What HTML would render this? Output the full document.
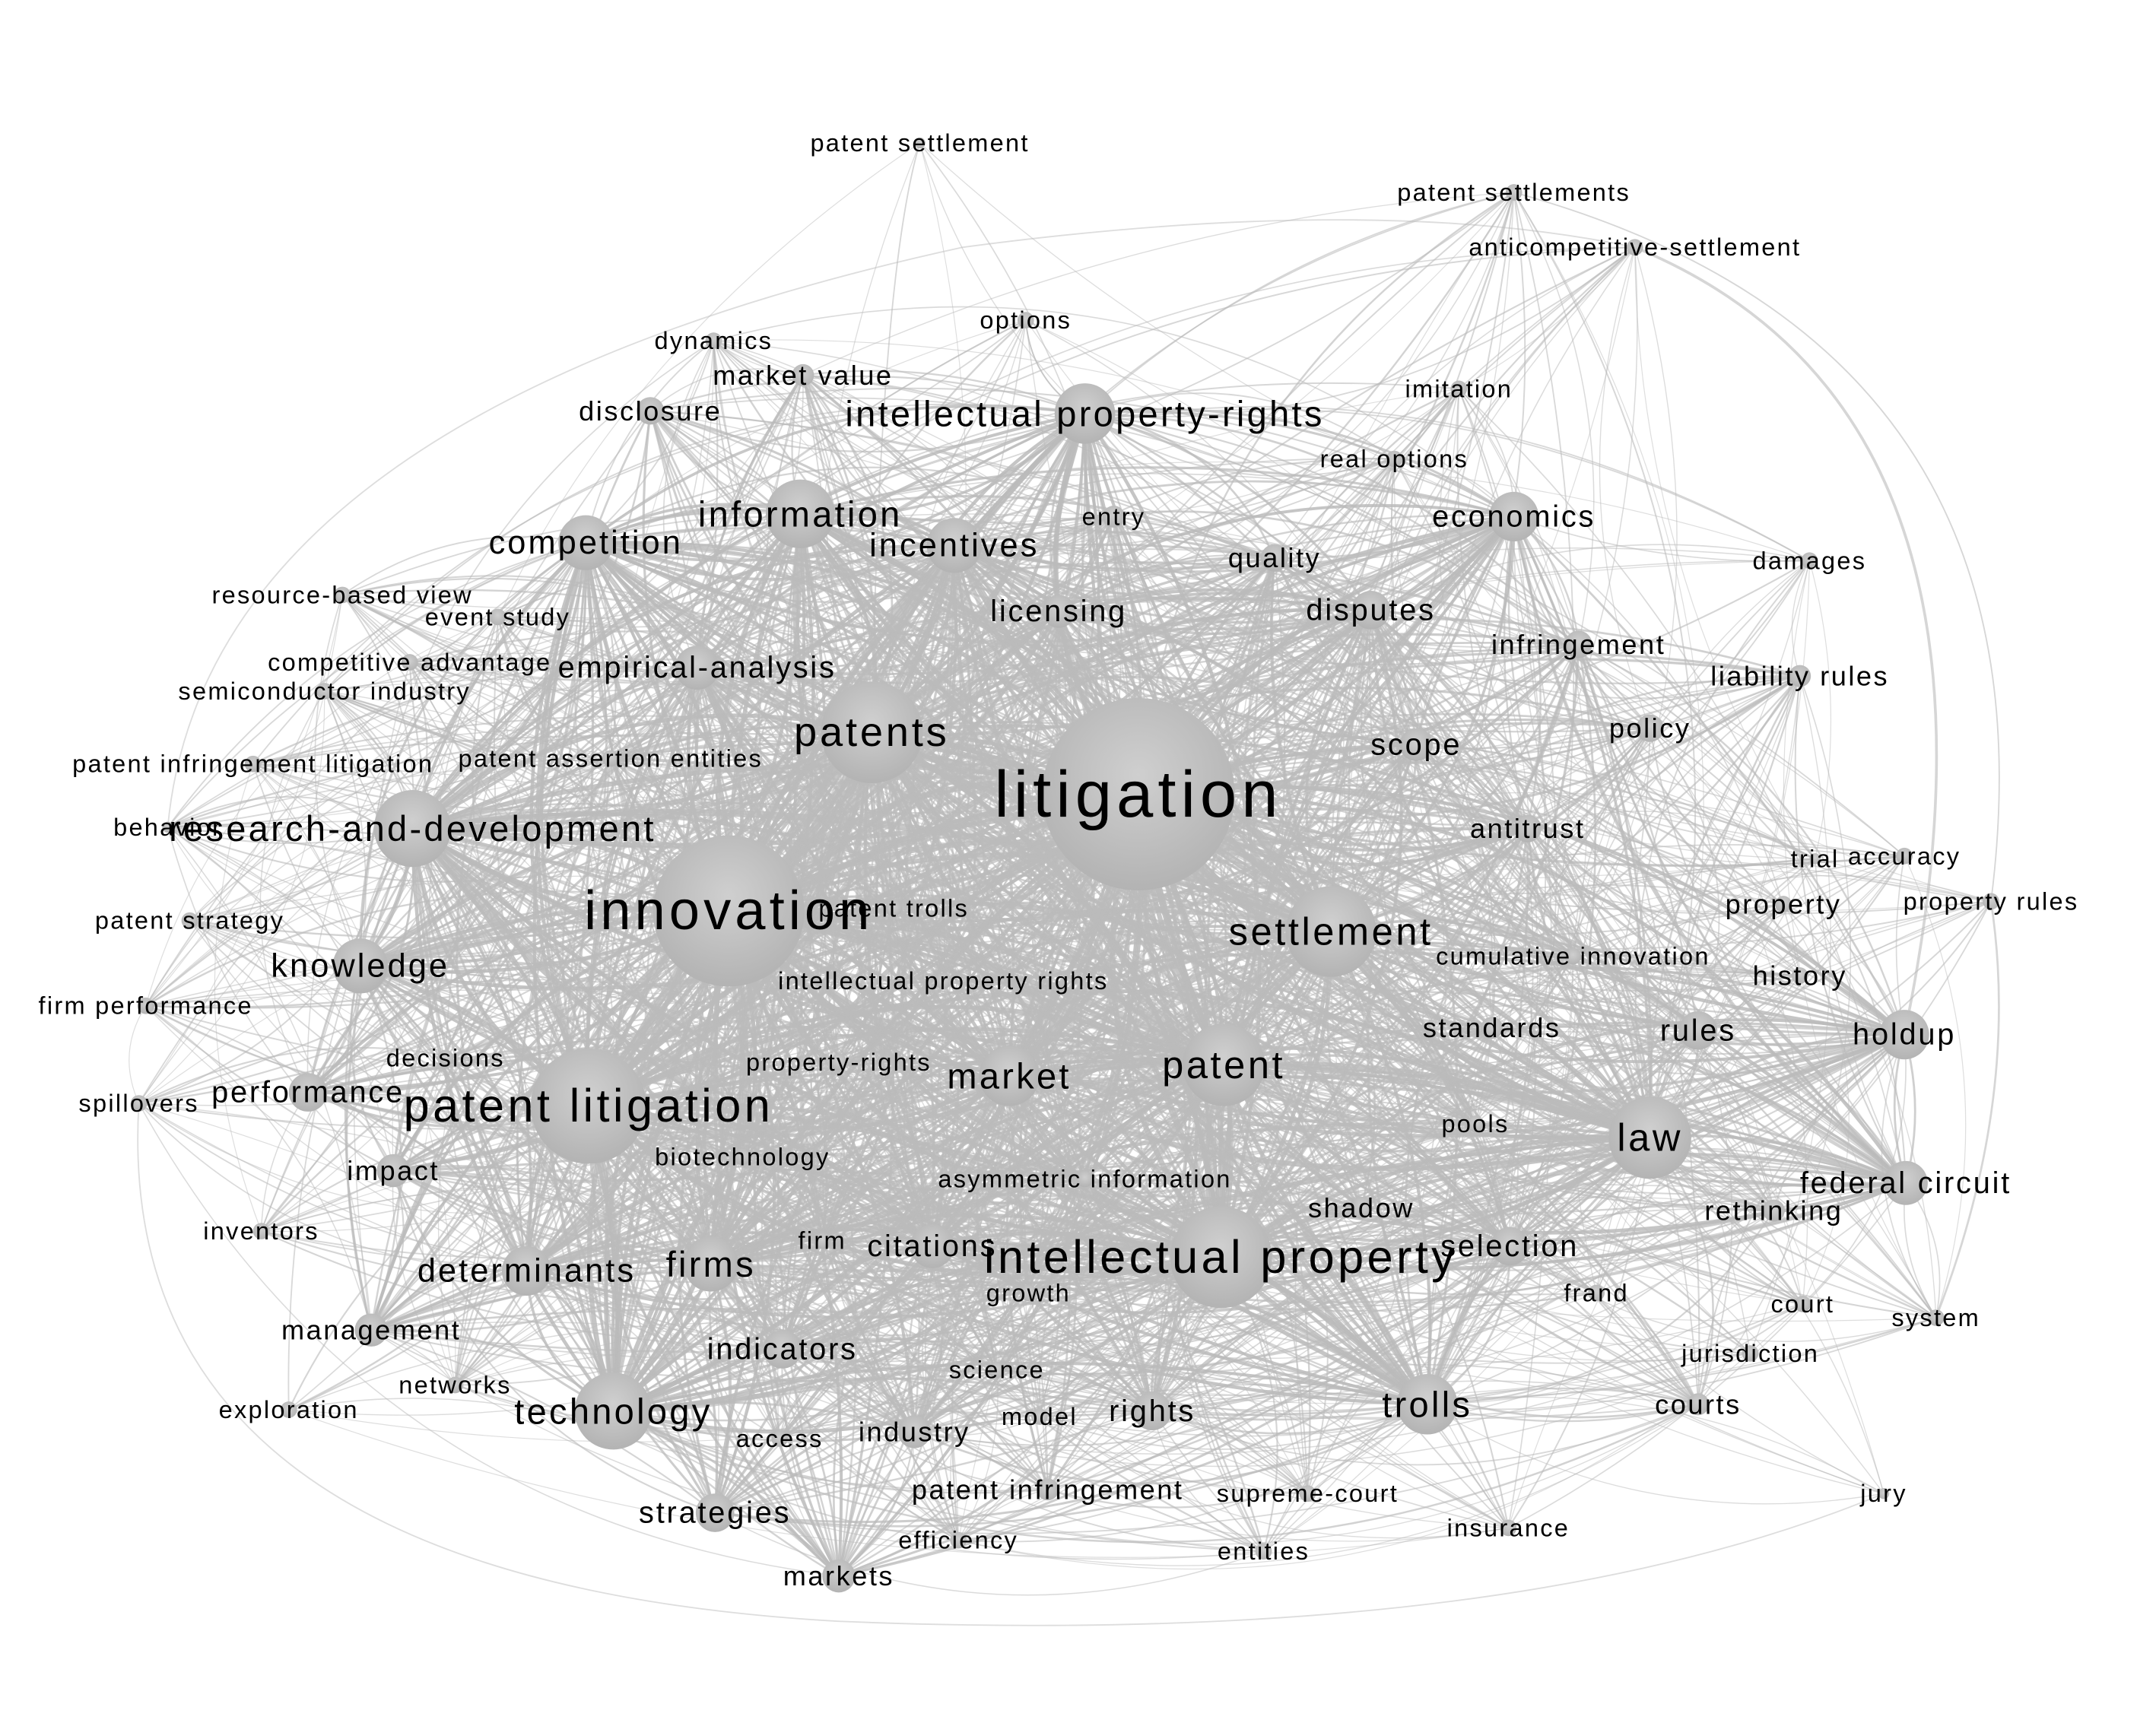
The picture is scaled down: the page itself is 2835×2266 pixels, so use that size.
<!DOCTYPE html>
<html><head><meta charset="utf-8"><style>
html,body{margin:0;padding:0;background:#fff;width:2835px;height:2266px;overflow:hidden}
svg{display:block}
text{font-family:"Liberation Sans",Arial,sans-serif;fill:#000;text-anchor:middle;dominant-baseline:central;letter-spacing:0.07em}
</style></head><body>
<svg id="s" width="2835" height="2266" viewBox="0 0 1568 1254" preserveAspectRatio="none" xmlns="http://www.w3.org/2000/svg">
<defs><radialGradient id="g" cx="50%" cy="40%" r="60%"><stop offset="0" stop-color="#cfcfcf"/><stop offset="1" stop-color="#b3b3b3"/></radialGradient></defs>
<g id="edges" fill="none" stroke="#bbbbbb"></g>
<g id="circ"></g>
<g id="labels"></g>
</svg>
<script>
var N=[
["litigation",828,578,48,70,10],["innovation",530,663,40,55,10],["patents",634,533,30,37,8],
["patent litigation",428,805,34,42,8],["intellectual property",888,915,34,37,8],["settlement",968,678,28,33,7],
["research-and-development",300,603,26,28,7],["technology",446,1027,26,28,7],["trolls",1038,1022,26,22,6],
["law",1200,828,28,30,7],["patent",890,775,28,30,7],["market",734,783,26,22,6],["firms",517,920,26,20,6],
["information",582,374,26,25,6],["competition",426,395,24,20,6],["intellectual property-rights",789,301,26,22,6],
["incentives",694,397,24,20,6],["economics",1101,376,22,18,5],["knowledge",262,703,24,20,5],["holdup",1385,753,22,18,5],
["determinants",383,925,24,18,5],["disputes",997,444,22,14,5],["empirical-analysis",507,486,22,16,5],["citations",678,907,22,16,5],
["federal circuit",1386,861,22,16,5],["selection",1098,907,22,14,4],["rules",1235,750,22,14,4],["performance",224,795,22,14,4],
["management",270,968,20,12,4],["strategies",520,1101,22,14,4],["rights",838,1027,22,14,4],["indicators",569,982,22,14,4],
["industry",665,1042,20,12,4],["markets",610,1147,20,12,4],["impact",286,852,20,12,4],["licensing",770,445,22,12,4],
["scope",1030,542,22,12,4],["antitrust",1111,603,20,10,4],["policy",1200,530,20,10,3],["infringement",1148,469,20,10,4],
["quality",927,406,20,10,4],["entry",810,376,18,8,3],["disclosure",473,299,20,10,3],["market value",584,273,20,8,3],
["dynamics",519,248,18,6,2],["options",746,233,18,6,2],["patent settlement",669,104,18,4,1],["patent settlements",1101,140,18,6,2],
["anticompetitive-settlement",1189,180,18,6,2],["imitation",1061,283,18,6,2],["real options",1014,334,18,6,2],["damages",1316,408,18,6,2],
["liability rules",1309,492,20,8,3],["resource-based view",249,433,18,6,2],["event study",362,449,18,6,2],["competitive advantage",298,482,18,6,2],
["semiconductor industry",236,503,18,6,2],["patent infringement litigation",184,556,18,6,2],["patent assertion entities",444,552,18,6,3],
["patent strategy",138,670,18,6,2],["firm performance",106,732,18,6,2],["spillovers",101,803,18,6,2],["inventors",190,896,18,6,2],
["exploration",210,1026,18,6,2],["networks",331,1008,18,6,2],["access",567,1047,18,6,2],["model",756,1031,18,6,2],["science",725,997,18,6,3],
["growth",748,941,18,6,3],["firm",598,903,18,6,3],["asymmetric information",789,858,18,6,3],["biotechnology",540,842,18,6,3],
["property-rights",610,773,18,6,3],["decisions",324,770,18,6,2],["intellectual property rights",686,714,18,6,3],["patent trolls",650,661,18,6,3],
["cumulative innovation",1144,696,18,6,3],["standards",1085,748,20,8,3],["pools",1073,818,18,6,3],["shadow",990,879,20,8,3],
["frand",1161,941,18,6,2],["court",1311,949,18,6,2],["system",1408,959,18,6,2],["jurisdiction",1273,985,18,6,2],["courts",1235,1022,20,8,3],
["jury",1370,1087,18,4,1],["insurance",1097,1112,18,6,2],["entities",919,1129,18,6,2],["supreme-court",951,1087,18,6,2],
["patent infringement",762,1084,20,8,3],["efficiency",697,1121,18,6,2],["rethinking",1290,881,20,8,3],["history",1309,710,20,6,2],
["property",1297,658,20,6,2],["trial",1320,625,18,4,2],["accuracy",1385,623,18,6,2],["property rules",1448,656,18,6,2],["behavior",122,602,18,4,2]
];
var seed=12345;function r(){seed=(seed*16807)%2147483647;return seed/2147483647;}
var E=document.getElementById("edges"),C=document.getElementById("circ"),L=document.getElementById("labels");
var h="";
for(var pass=0;pass<2;pass++)
for(var i=0;i<N.length;i++)for(var j=i+1;j<N.length;j++){
 var a=N[i],b=N[j],p=a[5]*b[5]/32;
 if(pass==1){ if(a[5]<5&&b[5]<5) continue; p=a[5]*b[5]/60; }
 var dx=b[1]-a[1],dy=b[2]-a[2],d=Math.sqrt(dx*dx+dy*dy);
 if(d>700)p*=0.5;
 if(r()<p){
  var s=(r()<0.5?-1:1)*(0.08+0.2*r());
  var mx=(a[1]+b[1])/2-dy*s,my=(a[2]+b[2])/2+dx*s;
  var w=Math.min(4.5,0.5+a[5]*b[5]/24);
  var o=(0.45+0.4*Math.min(1,a[5]*b[5]/40)).toFixed(2);
  h+='<path d="M'+a[1]+' '+a[2]+'Q'+mx.toFixed(1)+' '+my.toFixed(1)+' '+b[1]+' '+b[2]+'" stroke-width="'+w.toFixed(2)+'" stroke-opacity="'+o+'"/>';
 }}
h+='<path d="M1189 180 Q1480 300 1385 753" stroke-width="2" stroke-opacity="0.6"/><path d="M1101 140 Q1500 250 1448 656" stroke-width="1" stroke-opacity="0.6"/>';
h+='<path d="M669 104 Q640 200 634 533" stroke-width="1" stroke-opacity="0.6"/><path d="M101 803 Q80 1150 610 1180 Q1100 1200 1370 1087" stroke-width="1" stroke-opacity="0.5"/>';
h+='<path d="M122 602 Q150 300 700 180 Q1000 140 1189 180" stroke-width="1" stroke-opacity="0.5"/><path d="M1408 959 Q1470 800 1448 656" stroke-width="1.5" stroke-opacity="0.6"/>';
E.innerHTML=h;
var c="",t="";
N.forEach(function(n){c+='<circle cx="'+n[1]+'" cy="'+n[2]+'" r="'+n[4]+'" fill="url(#g)"/>';
 t+='<text x="'+n[1]+'" y="'+n[2]+'" font-size="'+n[3]+'">'+n[0]+'</text>';});
C.innerHTML=c;L.innerHTML=t;
</script>
</body></html>
